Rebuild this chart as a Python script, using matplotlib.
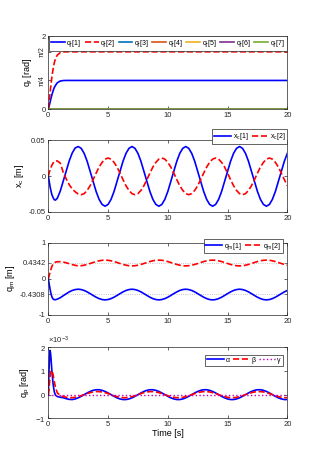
import numpy as np
import matplotlib
matplotlib.use("Agg")
import matplotlib.pyplot as plt
from matplotlib.ticker import ScalarFormatter

plt.rcParams['font.family'] = ['Liberation Sans', 'DejaVu Sans']
plt.rcParams['mathtext.fontset'] = 'custom'
plt.rcParams['mathtext.rm'] = 'Liberation Sans'
plt.rcParams['mathtext.it'] = 'Liberation Sans:italic'
plt.rcParams['axes.unicode_minus'] = False

# time samples (finer at the start, where the transients are)
t_early = [0, 0.05, 0.1, 0.15, 0.2, 0.3, 0.4, 0.5, 0.6, 0.75, 1.0]
t = np.concatenate([t_early, np.arange(1.25, 20.001, 0.25)])
t_r = t_early + [1.25, 1.5, 2.0, 20.0]

# reference joint angles q_r
q_r1 = [0, 0.06, 0.12, 0.19, 0.26, 0.39, 0.50, 0.59, 0.65, 0.72, 0.77, 0.782, 0.785, 0.785, 0.785]
q_r2 = [0, 0.15, 0.30, 0.45, 0.60, 0.88, 1.10, 1.27, 1.38, 1.48, 1.55, 1.566, 1.571, 1.571, 1.571]
q_r_rest = [0, 0, 0, 0, 0, 0, 0, 0, 0, 0, 0, 0, 0, 0, 0]

# x_c
x_c1 = [0, -0.005, -0.010, -0.015, -0.019, -0.026, -0.030, -0.033, -0.0335, -0.031, -0.021,
        -0.007, 0.007, 0.021, 0.032, 0.039,
        0.041, 0.0385, 0.0315, 0.0205, 0.0065, -0.0075, -0.0215, -0.0325, -0.0395,
        -0.042, -0.0395, -0.0325, -0.0215, -0.0075, 0.0065, 0.0205, 0.0315, 0.0385,
        0.041, 0.0385, 0.0315, 0.0205, 0.0065, -0.0075, -0.0215, -0.0325, -0.0395,
        -0.042, -0.0395, -0.0325, -0.0215, -0.0075, 0.0065, 0.0205, 0.0315, 0.0385,
        0.041, 0.0385, 0.0315, 0.0205, 0.0065, -0.0075, -0.0215, -0.0325, -0.0395,
        -0.042, -0.0395, -0.0325, -0.0215, -0.0075, 0.0065, 0.0205, 0.0315, 0.0385,
        0.041, 0.0385, 0.0315, 0.0205, 0.0065, -0.0075, -0.0215, -0.0325, -0.0395,
        -0.042, -0.0395, -0.0325, -0.0215, -0.0075, 0.0065, 0.0205, 0.0315]
x_c2 = [0, 0.003, 0.006, 0.0085, 0.011, 0.015, 0.018, 0.020, 0.021, 0.021, 0.018,
        0.005, -0.004, -0.012, -0.018, -0.022, -0.025,
        -0.026, -0.0245, -0.02, -0.0135, -0.005, 0.004, 0.0125, 0.019, 0.0235,
        0.025, 0.0235, 0.019, 0.0125, 0.004, -0.005, -0.0135, -0.02, -0.0245,
        -0.026, -0.0245, -0.02, -0.0135, -0.005, 0.004, 0.0125, 0.019, 0.0235,
        0.025, 0.0235, 0.019, 0.0125, 0.004, -0.005, -0.0135, -0.02, -0.0245,
        -0.026, -0.0245, -0.02, -0.0135, -0.005, 0.004, 0.0125, 0.019, 0.0235,
        0.025, 0.0235, 0.019, 0.0125, 0.004, -0.005, -0.0135, -0.02, -0.0245,
        -0.026, -0.0245, -0.02, -0.0135, -0.005, 0.004, 0.0125, 0.019, 0.0235,
        0.025, 0.0235, 0.019, 0.0125, 0.004, -0.005, -0.0135]

# q_m
q_m1 = [0, -0.10, -0.20, -0.29, -0.38, -0.50, -0.56, -0.58, -0.58, -0.565, -0.525,
        -0.47, -0.415, -0.364, -0.325, -0.30,
        -0.29, -0.30, -0.325, -0.364, -0.412, -0.463, -0.511, -0.550, -0.576,
        -0.585, -0.576, -0.550, -0.511, -0.463, -0.412, -0.364, -0.325, -0.30,
        -0.29, -0.30, -0.325, -0.364, -0.412, -0.463, -0.511, -0.550, -0.576,
        -0.585, -0.576, -0.550, -0.511, -0.463, -0.412, -0.364, -0.325, -0.30,
        -0.29, -0.30, -0.325, -0.364, -0.412, -0.463, -0.511, -0.550, -0.576,
        -0.585, -0.576, -0.550, -0.511, -0.463, -0.412, -0.364, -0.325, -0.30,
        -0.29, -0.30, -0.325, -0.364, -0.412, -0.463, -0.511, -0.550, -0.576,
        -0.585, -0.576, -0.550, -0.511, -0.463, -0.412, -0.364, -0.325]
q_m2 = [0, 0.06, 0.12, 0.18, 0.24, 0.34, 0.41, 0.445, 0.46, 0.468, 0.47,
        0.46, 0.44, 0.415, 0.39, 0.37,
        0.354, 0.359, 0.373, 0.394, 0.420, 0.448, 0.474, 0.495, 0.509,
        0.514, 0.509, 0.495, 0.474, 0.448, 0.420, 0.394, 0.373, 0.359,
        0.354, 0.359, 0.373, 0.394, 0.420, 0.448, 0.474, 0.495, 0.509,
        0.514, 0.509, 0.495, 0.474, 0.448, 0.420, 0.394, 0.373, 0.359,
        0.354, 0.359, 0.373, 0.394, 0.420, 0.448, 0.474, 0.495, 0.509,
        0.514, 0.509, 0.495, 0.474, 0.448, 0.420, 0.394, 0.373, 0.359,
        0.354, 0.359, 0.373, 0.394, 0.420, 0.448, 0.474, 0.495, 0.509,
        0.514, 0.509, 0.495, 0.474, 0.448, 0.420, 0.394, 0.373]
q_m_ref = [0.4342, -0.4308]

# q_p (in units of 1e-3 rad)
alpha = [0, 0.9, 1.6, 1.87, 1.7, 1.0, 0.45, 0.12, -0.02, -0.08, -0.11,
         -0.13, -0.17, -0.2, -0.207, -0.182, -0.135, -0.072, 0, 0.072, 0.135, 0.182,
         0.207, 0.207, 0.182, 0.135, 0.072, 0, -0.072, -0.135, -0.182,
         -0.207, -0.207, -0.182, -0.135, -0.072, 0, 0.072, 0.135, 0.182,
         0.207, 0.207, 0.182, 0.135, 0.072, 0, -0.072, -0.135, -0.182,
         -0.207, -0.207, -0.182, -0.135, -0.072, 0, 0.072, 0.135, 0.182,
         0.207, 0.207, 0.182, 0.135, 0.072, 0, -0.072, -0.135, -0.182,
         -0.207, -0.207, -0.182, -0.135, -0.072, 0, 0.072, 0.135, 0.182,
         0.207, 0.207, 0.182, 0.135, 0.072, 0, -0.072, -0.135, -0.182,
         -0.207, -0.207]
beta = [0, 0.2, 0.5, 0.78, 0.95, 1.02, 0.85, 0.55, 0.3, 0.08, -0.04,
        -0.08, -0.11, -0.125, -0.128, -0.113, -0.084, -0.045, 0, 0.045, 0.084, 0.113,
        0.128, 0.128, 0.113, 0.084, 0.045, 0, -0.045, -0.084, -0.113,
        -0.128, -0.128, -0.113, -0.084, -0.045, 0, 0.045, 0.084, 0.113,
        0.128, 0.128, 0.113, 0.084, 0.045, 0, -0.045, -0.084, -0.113,
        -0.128, -0.128, -0.113, -0.084, -0.045, 0, 0.045, 0.084, 0.113,
        0.128, 0.128, 0.113, 0.084, 0.045, 0, -0.045, -0.084, -0.113,
        -0.128, -0.128, -0.113, -0.084, -0.045, 0, 0.045, 0.084, 0.113,
        0.128, 0.128, 0.113, 0.084, 0.045, 0, -0.045, -0.084, -0.113,
        -0.128, -0.128]
gamma = np.zeros(len(t))

# matlab default colour order for q_r[3..7]
rest_colors = ['#0072BD', '#D95319', '#EDB120', '#7E2F8E', '#77AC30']

fig = plt.figure(figsize=(3.17, 4.70), dpi=100)
L, W = 0.1524, 0.754
ax1 = fig.add_axes([L, 0.768, W, 0.155])
ax2 = fig.add_axes([L, 0.549, W, 0.153])
ax3 = fig.add_axes([L, 0.330, W, 0.154])
ax4 = fig.add_axes([L, 0.110, W, 0.151])

TICK_FS = 5.5
LAB_FS = 6.5
LEG_FS = 5

def style(ax):
    ax.set_xlim(0, 20)
    ax.set_xticks([0, 5, 10, 15, 20])
    ax.tick_params(direction='in', top=True, right=True, length=2, width=0.5,
                   labelsize=TICK_FS, colors='0.15', pad=2)
    for s in ax.spines.values():
        s.set_linewidth(0.5)
        s.set_color('0.15')

def legend(ax, **kw):
    leg = ax.legend(fontsize=LEG_FS, frameon=True, fancybox=False, framealpha=1,
                    edgecolor='0.15', handletextpad=0.25, borderpad=0.25,
                    borderaxespad=0, **kw)
    leg.get_frame().set_linewidth(0.5)
    return leg

# panel 1
ax1.plot(t_r, q_r1, color='b', lw=1.2, label=r'q$_\mathregular{r}$[1]')
ax1.plot(t_r, q_r2, color='r', ls='--', lw=1.2, label=r'q$_\mathregular{r}$[2]')
for i, c in enumerate(rest_colors):
    ax1.plot(t_r, q_r_rest, color=c, lw=1.2, label=r'q$_\mathregular{r}$[%d]' % (i + 3))
style(ax1)
ax1.set_ylim(0, 2)
ax1.set_yticks([0, np.pi / 4, np.pi / 2, 2])
ax1.set_yticklabels(['0', 'π/4', 'π/2', '2'])
for lab in ax1.get_yticklabels()[1:3]:
    lab.set_rotation(90)
    lab.set_va('center')
    lab.set_fontsize(5)
ax1.set_ylabel(r'q$_\mathregular{r}$ [rad]', fontsize=LAB_FS, labelpad=3)
legend(ax1, loc='upper center', bbox_to_anchor=(0.5, 1.0), ncol=7,
       handlelength=2.0, columnspacing=0.45)

# panel 2
ax2.plot(t, x_c1, color='b', lw=1.2, label=r'x$_\mathregular{c}$[1]')
ax2.plot(t, x_c2, color='r', ls='--', lw=1.2, label=r'x$_\mathregular{c}$[2]')
style(ax2)
ax2.set_ylim(-0.05, 0.05)
ax2.set_yticks([-0.05, 0, 0.05])
ax2.set_yticklabels(['-0.05', '0', '0.05'])
ax2.set_ylabel(r'x$_\mathregular{c}$ [m]', fontsize=LAB_FS, labelpad=2)
legend(ax2, loc='upper right', bbox_to_anchor=(1.0, 1.15), ncol=2,
       handlelength=2.4, columnspacing=0.5)

# panel 3
for v in q_m_ref:
    ax3.axhline(v, color='0.7', ls=':', lw=0.6)
ax3.plot(t, q_m1, color='b', lw=1.2, label=r'q$_\mathregular{m}$[1]')
ax3.plot(t, q_m2, color='r', ls='--', lw=1.2, label=r'q$_\mathregular{m}$[2]')
style(ax3)
ax3.set_ylim(-1, 1)
ax3.set_yticks([-1, q_m_ref[1], 0, q_m_ref[0], 1])
ax3.set_yticklabels(['-1', '-0.4308', '0', '0.4342', '1'])
ax3.set_ylabel(r'q$_\mathregular{m}$ [m]', fontsize=LAB_FS, labelpad=2)
legend(ax3, loc='upper right', bbox_to_anchor=(0.98, 1.05), ncol=2,
       handlelength=2.4, columnspacing=0.5)

# panel 4
ax4.plot(t, np.array(alpha) * 1e-3, color='b', lw=1.2, label='α')
ax4.plot(t, np.array(beta) * 1e-3, color='r', ls='--', lw=1.2, label='β')
ax4.plot(t, gamma, color='m', ls=':', lw=1.0, label='γ')
style(ax4)
ax4.set_ylim(-1e-3, 2e-3)
ax4.set_yticks([-1e-3, 0, 1e-3, 2e-3])
fmt = ScalarFormatter(useMathText=True)
fmt.set_powerlimits((0, 0))
ax4.yaxis.set_major_formatter(fmt)
ax4.yaxis.get_offset_text().set_fontsize(TICK_FS)
ax4.set_ylabel(r'q$_\mathregular{p}$ [rad]', fontsize=LAB_FS, labelpad=2)
ax4.set_xlabel('Time [s]', fontsize=LAB_FS, labelpad=1)
legend(ax4, loc='upper right', bbox_to_anchor=(0.98, 0.89), ncol=3,
       handlelength=2.4, columnspacing=0.5)

fig.savefig('out.png', dpi=100)
